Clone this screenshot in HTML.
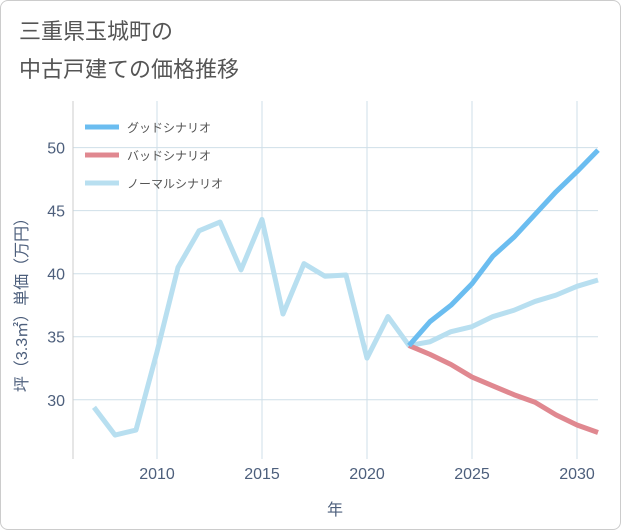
<!DOCTYPE html>
<html><head><meta charset="utf-8"><style>
body{margin:0;background:#fff;}
#wrap{width:619px;height:528px;border:1px solid #ccc;border-radius:8px;position:relative;overflow:hidden;font-family:"Liberation Sans","Noto Sans CJK JP",sans-serif;}
</style></head><body>
<div id="wrap">
<svg id="svg" width="621" height="530" xmlns="http://www.w3.org/2000/svg">
<text x="18" y="38" font-size="22" fill="#555" font-family="Liberation Sans,Noto Sans CJK JP,sans-serif">三重県玉城町の</text>
<text x="18" y="76" font-size="22" fill="#555" font-family="Liberation Sans,Noto Sans CJK JP,sans-serif">中古戸建ての価格推移</text>
<g id="grid"></g><g id="series"></g><g id="axes"></g>
<g font-size="12" fill="#555" font-family="Liberation Sans,Noto Sans CJK JP,sans-serif">
<line x1="84" y1="126" x2="118" y2="126" stroke="#6bbdf0" stroke-width="5"/>
<text x="126" y="131">グッドシナリオ</text>
<line x1="84" y1="154" x2="118" y2="154" stroke="#e08890" stroke-width="5"/>
<text x="126" y="159">バッドシナリオ</text>
<line x1="84" y1="182" x2="118" y2="182" stroke="#b8dff0" stroke-width="5"/>
<text x="126" y="187">ノーマルシナリオ</text>
</g>
</svg></div>
<script>
const years=[2007,2008,2009,2010,2011,2012,2013,2014,2015,2016,2017,2018,2019,2020,2021,2022,2023,2024,2025,2026,2027,2028,2029,2030,2031];
const normal=[29.4,27.2,27.6,33.8,40.5,43.4,44.1,40.3,44.3,36.8,40.8,39.8,39.9,33.3,36.6,34.3,34.6,35.4,35.8,36.6,37.1,37.8,38.3,39.0,39.5];
const futureYears=[2022,2023,2024,2025,2026,2027,2028,2029,2030,2031];
const good=[34.3,36.2,37.5,39.2,41.4,42.9,44.7,46.5,48.1,49.8];
const bad=[34.3,33.6,32.8,31.8,31.1,30.4,29.8,28.8,28.0,27.4];
const xTicks=[2010,2015,2020,2025,2030];
const yTicks=[30,35,40,45,50];
const L=72,R=597,T=100,B=458;
const x=v=>L+(v-2006)*(R-L)/25;
const y=v=>B-(v-25.3)*(B-T)/(53.7-25.3);
const NS="http://www.w3.org/2000/svg";
function mk(tag,attrs,parent){const e=document.createElementNS(NS,tag);for(const k in attrs)e.setAttribute(k,attrs[k]);document.getElementById(parent).appendChild(e);return e;}
const bg=mk('rect',{x:L,y:T,width:R-L,height:B-T,fill:'#fff'},'grid');


xTicks.forEach(t=>{const l=mk('line',{x1:x(t),x2:x(t),y1:T,y2:B,stroke:'#cfdfe8'},'grid');


const tx=mk('text',{x:x(t),y:B+20,'text-anchor':'middle','font-size':16,fill:'#4d5f7c'},'axes');tx.textContent=t;

});
yTicks.forEach(t=>{const l=mk('line',{x1:L,x2:R,y1:y(t),y2:y(t),stroke:'#cfdfe8'},'grid');


const tx=mk('text',{x:L-8,y:y(t)+6,'text-anchor':'end','font-size':16,fill:'#4d5f7c'},'axes');tx.textContent=t;

});
const ax=mk('line',{x1:L,x2:L,y1:T,y2:B,stroke:'#ccc'},'axes');


const xt=mk('text',{x:334,y:514,'text-anchor':'middle','font-size':16,fill:'#4d5f7c'},'axes');xt.textContent='年';


const yt=mk('text',{x:0,y:0,transform:'translate(26,300) rotate(-90)','text-anchor':'middle','font-size':16,fill:'#4d5f7c'},'axes');yt.textContent='坪（3.3㎡）単価（万円）';


function line(xs,vs,color,name){const p=mk('polyline',{points:xs.map((a,i)=>x(a)+','+y(vs[i])).join(' '),fill:'none',stroke:color,'stroke-width':5,'stroke-linejoin':'round'},'series');

}
line(years,normal,'#b8dff0','normal-line');
line(futureYears,bad,'#e08890','bad-line');
line(futureYears,good,'#6bbdf0','good-line');
</script>
</body></html>
